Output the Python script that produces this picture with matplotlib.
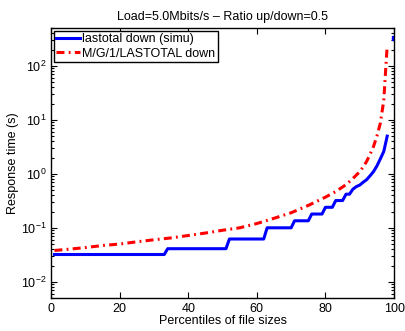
import matplotlib
matplotlib.use("Agg")
import matplotlib.pyplot as plt
import numpy as np
from matplotlib.ticker import LogLocator, NullFormatter

plt.rcParams['font.family'] = ['Liberation Sans', 'DejaVu Sans']
plt.rcParams['mathtext.fontset'] = 'custom'
plt.rcParams['mathtext.rm'] = 'Liberation Sans'
plt.rcParams['mathtext.it'] = 'Liberation Sans:italic'
plt.rcParams['mathtext.bf'] = 'Liberation Sans:bold'

# Simulated response time per percentile of file size
simu_pct = list(range(1, 99))
simu_resp = ([0.032] * 33 + [0.041] * 18 + [0.062] * 11 + [0.10] * 8 +
             [0.135] * 5 + [0.18] * 4 + [0.24] * 3 + [0.32] * 3 + [0.42] * 2 +
             [0.52, 0.58, 0.62, 0.70, 0.78, 0.92, 1.1, 1.4, 1.9, 2.6, 5.0])
simu_tail_pct = [100]
simu_tail_resp = [330]

# M/G/1/LASTOTAL model
model_pct = [1, 5, 10, 15, 20, 25, 30, 35, 40, 45, 50, 55, 60, 65, 70, 75, 80,
             83, 86, 88, 90, 91, 92, 93, 94, 95, 96, 97, 98]
model_resp = [0.038, 0.040, 0.043, 0.047, 0.050, 0.055, 0.060, 0.065, 0.072,
              0.080, 0.090, 0.10, 0.12, 0.15, 0.19, 0.26, 0.37, 0.47, 0.63,
              0.82, 1.1, 1.35, 1.7, 2.3, 3.2, 5.0, 8.7, 23, 240]

x_ticks = [0, 20, 40, 60, 80, 100]

FS = 9

fig = plt.figure(figsize=(4.05, 3.31), dpi=100)
ax = fig.add_axes([0.126, 0.0997, 0.847, 0.815])

ax.plot(simu_pct, simu_resp, color='#0000ff', lw=2.2,
        label='lastotal down (simu)')
ax.plot(simu_tail_pct, simu_tail_resp, color='#0000ff', marker='s', ms=2.5,
        lw=0)
ax.plot(model_pct, model_resp, color='#ff0000', lw=2.2,
        linestyle=(0, (2.6, 1.4, 0.6, 1.4)), label='M/G/1/LASTOTAL down')

ax.set_yscale('log')
ax.set_xlim(0, 100)
ax.set_ylim(0.005, 500)
ax.set_xticks(x_ticks)
ax.yaxis.set_major_locator(LogLocator(base=10, numticks=10))
ax.yaxis.set_minor_locator(LogLocator(base=10, subs=np.arange(2, 10), numticks=10))
ax.yaxis.set_minor_formatter(NullFormatter())

ax.tick_params(axis='both', which='both', direction='in', top=True,
               right=True, labelsize=FS, width=0.8)
ax.tick_params(axis='both', which='major', length=4)
ax.tick_params(axis='y', which='minor', length=2)
for s in ax.spines.values():
    s.set_linewidth(1.0)

ax.set_title('Load=5.0Mbits/s – Ratio up/down=0.5', fontsize=FS, pad=6)
ax.set_xlabel('Percentiles of file sizes', fontsize=FS, labelpad=0)
ax.set_ylabel('Response time (s)', fontsize=FS, labelpad=1)

leg = ax.legend(loc='upper left', fontsize=FS, frameon=True, fancybox=False,
                edgecolor='black', framealpha=1, borderaxespad=0.2,
                handlelength=1.9, handletextpad=0.2, borderpad=0.2,
                labelspacing=0.2)
leg.get_frame().set_linewidth(1.0)

fig.savefig('out.png', dpi=100)
